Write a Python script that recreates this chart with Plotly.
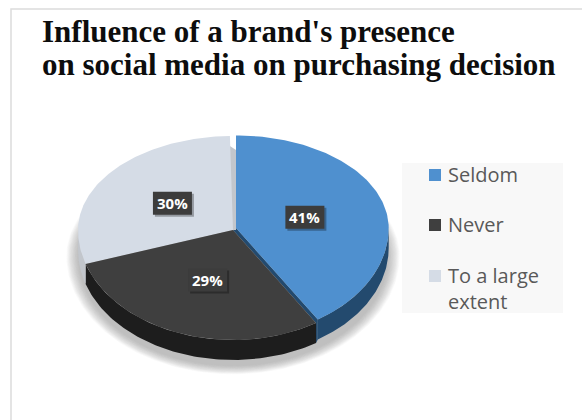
import numpy as np
import plotly.graph_objects as go

# Survey shares
categories = ["Seldom", "Never", "To a large extent"]
shares = [41, 29, 30]
legend_labels = ["Seldom", "Never", "To a large<br>extent"]
top_colors = ["#4f90cf", "#3f3f3f", "#d5dce6"]
side_colors = ["#234a6e", "#1d1d1d", "#c2c6cc"]

title_lines = ["Influence of a brand's presence", "on social media on purchasing decision"]

# Tilted-disc geometry, in axis units
cx, cy = 233.0, 230.0
rx, ry_back, ry_front = 155.0, 94.0, 110.0
depth = 20.0
blue_dx, blue_dy = 3.0, -2.0
blue_scale = 0.985


def rim(theta, dx=0.0, dy=0.0, scale=1.0):
    """Point on the tilted disc at clockwise angle theta (radians from 12 o'clock)."""
    c = np.cos(theta)
    ry = np.where(c >= 0, ry_back, ry_front)
    return cx + dx + scale * rx * np.sin(theta), cy + dy - scale * ry * c


edges = np.cumsum([0] + shares) / sum(shares) * 2 * np.pi
offsets = [(blue_dx, blue_dy, blue_scale), (0.0, 0.0, 1.0), (0.0, 0.0, 1.0)]
fig = go.Figure()


def poly(x, y, color, opacity=1.0, name=None):
    fig.add_trace(go.Scatter(
        x=list(x), y=list(y), mode="lines", fill="toself", fillcolor=color,
        line=dict(width=0), opacity=opacity, hoverinfo="skip" if name is None else "text",
        text=name, showlegend=False,
    ))


# Soft drop shadow: stacked translucent discs
t = np.linspace(0, 2 * np.pi, 241)
for grow in np.linspace(1.075, 1.0, 16):
    sx, sy = rim(t, 0, depth + 6, grow)
    poly(sx, sy, "#8c8c8c", 0.042)

# Cut face of the pulled-out slice, then the wall behind the gap at 12 o'clock
tip = rim(np.array([edges[1]]), blue_dx, blue_dy, blue_scale)
dark_end = rim(np.array([edges[1]]))
poly([cx + blue_dx, tip[0][0], tip[0][0], dark_end[0][0], dark_end[0][0], cx],
     [cy + blue_dy, tip[1][0], tip[1][0] + depth, dark_end[1][0] + depth, dark_end[1][0], cy],
     side_colors[0])
gray_end = edges[3] - 0.02
top_x, top_y = rim(np.array([gray_end]))
poly([top_x[0], cx + blue_dx, cx + blue_dx, top_x[0]],
     [top_y[0] + 10, top_y[0] + 14, cy, cy], side_colors[2])

# Side walls, front half only
for i in range(3):
    lo, hi = max(edges[i], np.pi / 2), min(edges[i + 1], 3 * np.pi / 2)
    if hi <= lo:
        continue
    th = np.linspace(lo, hi, 90)
    dx, dy, k = offsets[i]
    x0, y0 = rim(th, dx, dy, k)
    x1, y1 = rim(th[::-1], dx, dy + depth, k)
    poly(np.r_[x0, x1], np.r_[y0, y1], side_colors[i])

# Top faces
for i in [2, 1, 0]:
    a1 = gray_end if i == 2 else edges[i + 1]
    th = np.linspace(edges[i], a1, 120)
    dx, dy, k = offsets[i]
    x, y = rim(th, dx, dy, k)
    poly(np.r_[cx + dx, x, cx + dx], np.r_[cy + dy, y, cy + dy], top_colors[i],
         name=f"{categories[i]}: {shares[i]}%")

# Percentage tags at the middle of each slice
mids = (edges[:-1] + edges[1:]) / 2
lx, ly = rim(mids, 0, 0, 0.483)
tag_w, tag_h = 39, 23
tag_shapes = []
for x, y, v in zip(lx, ly, shares):
    tag_shapes.append(dict(type="rect", x0=x - tag_w / 2 + 2, x1=x + tag_w / 2 + 2,
                           y0=y - tag_h / 2 + 2, y1=y + tag_h / 2 + 2,
                           line=dict(width=0), fillcolor="rgba(0,0,0,0.3)"))
    tag_shapes.append(dict(type="rect", x0=x - tag_w / 2, x1=x + tag_w / 2,
                           y0=y - tag_h / 2, y1=y + tag_h / 2,
                           line=dict(width=0), fillcolor="#3c3c3c"))
    fig.add_annotation(x=x, y=y, text=f"<b>{v}%</b>", showarrow=False,
                       font=dict(family="Open Sans", size=15, color="#ffffff"))

# Key on the right
key_y = [175, 225, 276]
text_y = [177, 227, 291]
fig.add_trace(go.Scatter(x=[435] * 3, y=key_y, mode="markers", hoverinfo="skip", showlegend=False,
                         marker=dict(symbol="square", size=12, color=top_colors, line=dict(width=0))))
fig.add_trace(go.Scatter(x=[448] * 3, y=text_y, mode="text", text=legend_labels, hoverinfo="skip",
                         textposition="middle right", showlegend=False,
                         textfont=dict(family="Open Sans", size=20, color="#595959")))

# Heading, one annotation per line
for line, base in zip(title_lines, [31, 64]):
    fig.add_annotation(x=40, y=base, text=f"<b>{line}</b>", showarrow=False,
                       xanchor="left", yanchor="middle",
                       font=dict(family="Liberation Serif", size=31, color="#0d0d0d"))

fig.update_layout(
    width=582, height=420, margin=dict(l=0, r=0, t=0, b=0),
    paper_bgcolor="#ffffff", plot_bgcolor="#ffffff",
    xaxis=dict(range=[0, 582], visible=False, fixedrange=True),
    yaxis=dict(range=[420, 0], visible=False, fixedrange=True),
    shapes=[
        dict(type="rect", layer="below", x0=11, x1=600, y0=9, y1=440,
             line=dict(color="#dcdcdc", width=1.5), fillcolor="#ffffff"),
        dict(type="rect", layer="below", x0=402, x1=563, y0=163, y1=313,
             line=dict(width=0), fillcolor="#f8f8f8"),
    ] + tag_shapes,
)
fig.write_html("out.html", config=dict(displayModeBar=False))
